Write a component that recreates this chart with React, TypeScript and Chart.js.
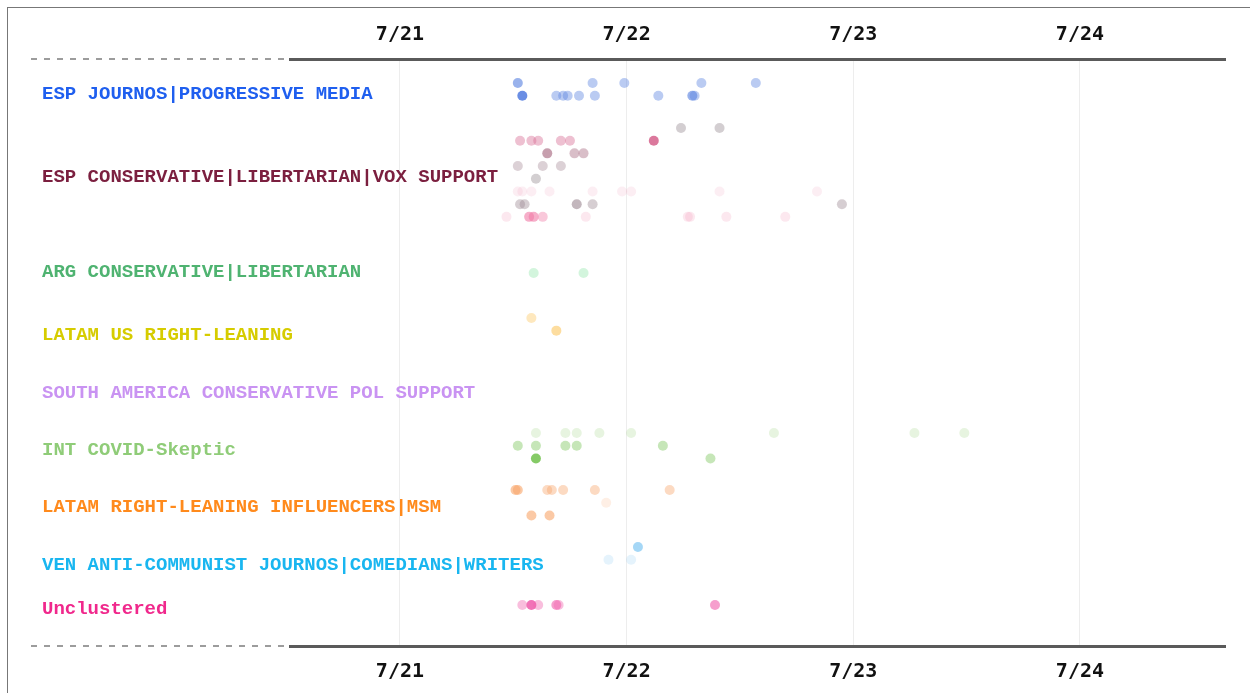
import React, { useEffect, useRef } from "react";
import { Chart, registerables } from "chart.js";

Chart.register(...registerables);

// ---------- DATA ----------
const clusterNames = [
  "ESP JOURNOS|PROGRESSIVE MEDIA",
  "ESP CONSERVATIVE|LIBERTARIAN|VOX SUPPORT",
  "ARG CONSERVATIVE|LIBERTARIAN",
  "LATAM US RIGHT-LEANING",
  "SOUTH AMERICA CONSERVATIVE POL SUPPORT",
  "INT COVID-Skeptic",
  "LATAM RIGHT-LEANING INFLUENCERS|MSM",
  "VEN ANTI-COMMUNIST JOURNOS|COMEDIANS|WRITERS",
  "Unclustered",
];
// row position of each cluster label (row units, top = 0)
const clusterLabelRows = [2.76, 9.29, 16.77, 21.73, 26.3, 30.79, 35.28, 39.84, 43.31];
// row position of each cluster's first account lane
const clusterFirstLane = [1.89, 5.43, 16.85, 20.39, 25.5, 29.45, 33.94, 38.43, 42.99];

const dayTicks = [21, 22, 23, 24];
const dayMin = 20.515;
const dayMax = 24.64;
const rowMax = 46.22;

// points: [day (July), lane within cluster, intensity 0..3]
const espJournos = [
  [21.52, 0, 2], [21.85, 0, 1], [21.99, 0, 1], [22.33, 0, 1], [22.57, 0, 1],
  [21.54, 1, 3], [21.69, 1, 1], [21.72, 1, 1], [21.74, 1, 1], [21.79, 1, 1],
  [21.86, 1, 1], [22.14, 1, 1], [22.29, 1, 2], [22.3, 1, 1],
];
const espConservative = [
  [22.24, 0, 1], [22.41, 0, 1],
  [21.53, 1, 1], [21.58, 1, 1], [21.61, 1, 1], [21.71, 1, 1], [21.75, 1, 1], [22.12, 1, 3],
  [21.65, 2, 2], [21.77, 2, 1], [21.81, 2, 1],
  [21.52, 3, 1], [21.63, 3, 1], [21.71, 3, 1],
  [21.6, 4, 1],
  [21.52, 5, 0], [21.54, 5, 0], [21.58, 5, 0], [21.66, 5, 0], [21.85, 5, 0],
  [21.98, 5, 0], [22.02, 5, 0], [22.41, 5, 0], [22.84, 5, 0],
  [21.53, 6, 1], [21.55, 6, 1], [21.78, 6, 2], [21.85, 6, 1], [22.95, 6, 1],
  [21.47, 7, 0], [21.57, 7, 2], [21.59, 7, 2], [21.63, 7, 1], [21.82, 7, 0],
  [22.27, 7, 0], [22.28, 7, 0], [22.44, 7, 0], [22.7, 7, 0],
];
const argConservative = [[21.59, 0, 1], [21.81, 0, 1]];
const latamUs = [[21.58, 0, 1], [21.69, 1, 2]];
const southAmerica: number[][] = [];
const intCovid = [
  [21.6, 0, 0], [21.73, 0, 0], [21.78, 0, 0], [21.88, 0, 0], [22.02, 0, 0],
  [22.65, 0, 0], [23.27, 0, 0], [23.49, 0, 0],
  [21.52, 1, 1], [21.6, 1, 1], [21.73, 1, 1], [21.78, 1, 1], [22.16, 1, 1],
  [21.6, 2, 3], [22.37, 2, 1],
];
const latamInfluencers = [
  [21.51, 0, 2], [21.52, 0, 2], [21.65, 0, 1], [21.67, 0, 1], [21.72, 0, 1],
  [21.86, 0, 1], [22.19, 0, 1],
  [21.91, 1, 0],
  [21.58, 2, 2], [21.66, 2, 2],
];
const venAntiCommunist = [[22.05, 0, 2], [21.92, 1, 0], [22.02, 1, 0]];
const unclustered = [
  [21.54, 0, 1], [21.58, 0, 3], [21.61, 0, 1], [21.69, 0, 2], [21.7, 0, 1], [22.39, 0, 2],
];

const clusterPoints = [
  espJournos, espConservative, argConservative, latamUs, southAmerica,
  intCovid, latamInfluencers, venAntiCommunist, unclustered,
];

// ---------- STYLE ----------
const labelColors = [
  "#1f5fef", "#7b1f3f", "#4fb371", "#d6cc00", "#c993f2",
  "#8fcc78", "#ff8a1c", "#19b6f0", "#f0288c",
];
const dotBase: number[][][] = [
  [[90, 130, 225]],
  [[150, 138, 145], [215, 105, 145], [165, 100, 125], [172, 145, 158], [150, 140, 145], [240, 160, 190], [158, 138, 148], [240, 125, 168]],
  [[150, 232, 175]],
  [[252, 200, 100]],
  [[200, 160, 240]],
  [[120, 196, 85]],
  [[248, 168, 110]],
  [[110, 190, 240]],
  [[240, 100, 175]],
];
const alphaByLevel = [0.18, 0.42, 0.62, 0.9];

const tickFont = { family: "'DejaVu Sans Mono', monospace", size: 20, weight: "bold" as const };
const labelFont = { family: "'Liberation Mono', 'Courier New', monospace", size: 19, weight: "bold" as const };

const leftPad = 42;
const yAxisWidth = 248;

const leadLinePlugin = {
  id: "leadLines",
  afterDraw(chart: any) {
    const { ctx, chartArea } = chart;
    ctx.save();
    ctx.strokeStyle = "#9c9c9c";
    ctx.lineWidth = 2;
    ctx.setLineDash([6, 7]);
    for (const y of [chartArea.top, chartArea.bottom]) {
      ctx.beginPath();
      ctx.moveTo(chartArea.left - 259, y);
      ctx.lineTo(chartArea.left, y);
      ctx.stroke();
    }
    ctx.restore();
  },
};

export default function App() {
  const ref = useRef<HTMLCanvasElement>(null);

  useEffect(() => {
    const datasets = clusterPoints.map((pts, ci) => ({
      label: clusterNames[ci],
      data: pts.map((p) => ({ x: p[0], y: clusterFirstLane[ci] + p[1] })),
      pointBackgroundColor: pts.map((p) => {
        const bases = dotBase[ci];
        const c = bases[Math.min(p[1], bases.length - 1)];
        return `rgba(${c[0]},${c[1]},${c[2]},${alphaByLevel[p[2]]})`;
      }),
      pointBorderWidth: 0,
      pointRadius: 5,
      pointHoverRadius: 5,
    }));

    const xCommon = {
      type: "linear" as const,
      min: dayMin,
      max: dayMax,
      afterBuildTicks: (s: any) => {
        s.ticks = dayTicks.map((v) => ({ value: v }));
      },
      border: { display: true, color: "#5a5a5a", width: 3 },
    };

    const chart = new Chart(ref.current!, {
      type: "scatter",
      data: { datasets },
      plugins: [leadLinePlugin],
      options: {
        responsive: false,
        animation: false,
        layout: { padding: { left: leftPad, right: 25, top: 0, bottom: 0 } },
        plugins: { legend: { display: false }, tooltip: { enabled: false } },
        scales: {
          x: {
            ...xCommon,
            position: "bottom",
            afterFit: (s: any) => {
              s.height = 47;
            },
            ticks: {
              autoSkip: false,
              maxRotation: 0,
              padding: 14,
              color: "#111",
              font: tickFont,
              callback: (v: any) => `7/${v}`,
            },
            grid: { color: "#ededed", lineWidth: 1, drawTicks: false },
          },
          x2: {
            ...xCommon,
            position: "top",
            afterFit: (s: any) => {
              s.height = 59;
            },
            ticks: {
              autoSkip: false,
              maxRotation: 0,
              padding: 12,
              color: "#111",
              font: tickFont,
              callback: (v: any) => `7/${v}`,
            },
            grid: { display: false, drawTicks: false },
          },
          y: {
            type: "linear",
            position: "left",
            reverse: true,
            min: 0,
            max: rowMax,
            afterBuildTicks: (s: any) => {
              s.ticks = clusterLabelRows.map((v) => ({ value: v }));
            },
            afterFit: (s: any) => {
              s.width = yAxisWidth;
            },
            ticks: {
              autoSkip: false,
              mirror: true,
              padding: -yAxisWidth,
              color: (ctx: any) => labelColors[ctx.index],
              font: labelFont,
              callback: (_v: any, i: number) => clusterNames[i],
            },
            grid: { display: false, drawTicks: false },
            border: { display: false },
          },
        },
      } as any,
    });
    return () => chart.destroy();
  }, []);

  return (
    <div
      style={{
        position: "absolute",
        left: 0,
        top: 0,
        width: 1250,
        height: 693,
        overflow: "hidden",
        background: "#fff",
      }}
    >
      <div
        style={{
          position: "absolute",
          left: 7,
          top: 7,
          width: 1300,
          height: 800,
          borderLeft: "1px solid #777",
          borderTop: "1px solid #777",
        }}
      />
      <canvas
        ref={ref}
        width={1250}
        height={693}
        style={{ position: "absolute", left: 0, top: 0 }}
      />
    </div>
  );
}
